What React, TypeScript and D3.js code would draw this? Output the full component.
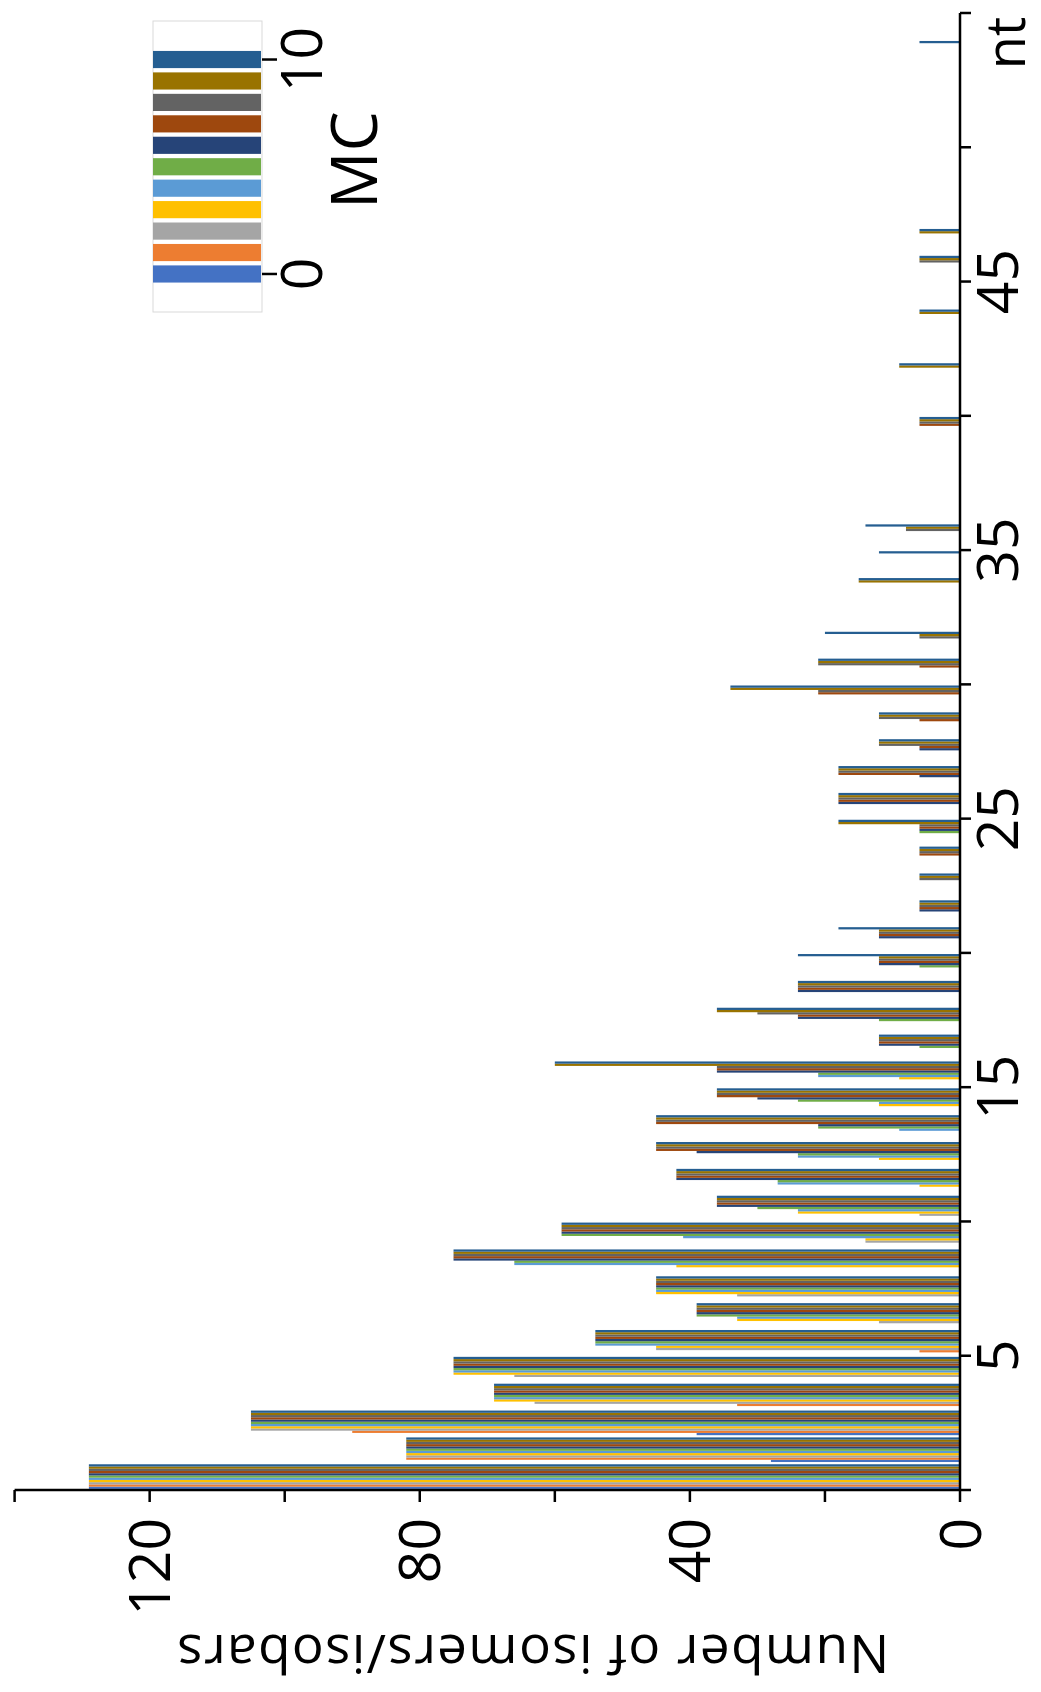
import React from 'react';
import * as d3 from 'd3';

// chain length categories (nt)
const ntValues = [
  1, 2, 3, 4, 5, 6, 7, 8, 9, 10, 11, 12, 13, 14, 15, 16, 17, 18, 19, 20,
  21, 22, 23, 24, 25, 26, 27, 28, 29, 30, 31, 32, 33, 34, 35, 36, 37, 38, 39, 40,
  41, 42, 43, 44, 45, 46, 47, 48, 49, 50, 51, 52, 53, 54,
];

// number of isomers/isobars per nt, one array per MC value
const mc0 = [129, 28, 39, 0, 0, 0, 0, 0, 0, 0, 0, 0, 0, 0, 0, 0, 0, 0, 0, 0, 0, 0, 0, 0, 0, 0, 0, 0, 0, 0, 0, 0, 0, 0, 0, 0, 0, 0, 0, 0, 0, 0, 0, 0, 0, 0, 0, 0, 0, 0, 0, 0, 0, 0];
const mc1 = [129, 82, 90, 33, 0, 6, 0, 0, 0, 0, 0, 0, 0, 0, 0, 0, 0, 0, 0, 0, 0, 0, 0, 0, 0, 0, 0, 0, 0, 0, 0, 0, 0, 0, 0, 0, 0, 0, 0, 0, 0, 0, 0, 0, 0, 0, 0, 0, 0, 0, 0, 0, 0, 0];
const mc2 = [129, 82, 105, 63, 66, 45, 12, 33, 0, 14, 6, 0, 0, 0, 0, 0, 0, 0, 0, 0, 0, 0, 0, 0, 0, 0, 0, 0, 0, 0, 0, 0, 0, 0, 0, 0, 0, 0, 0, 0, 0, 0, 0, 0, 0, 0, 0, 0, 0, 0, 0, 0, 0, 0];
const mc3 = [129, 82, 105, 69, 75, 45, 33, 45, 42, 14, 24, 6, 12, 0, 12, 9, 0, 0, 0, 0, 0, 0, 0, 0, 0, 0, 0, 0, 0, 0, 0, 0, 0, 0, 0, 0, 0, 0, 0, 0, 0, 0, 0, 0, 0, 0, 0, 0, 0, 0, 0, 0, 0, 0];
const mc4 = [129, 82, 105, 69, 75, 54, 33, 45, 66, 41, 24, 27, 24, 9, 12, 21, 0, 0, 0, 0, 0, 0, 0, 0, 0, 0, 0, 0, 0, 0, 0, 0, 0, 0, 0, 0, 0, 0, 0, 0, 0, 0, 0, 0, 0, 0, 0, 0, 0, 0, 0, 0, 0, 0];
const mc5 = [129, 82, 105, 69, 75, 54, 39, 45, 66, 59, 30, 27, 24, 21, 24, 21, 6, 12, 0, 6, 0, 0, 0, 0, 6, 0, 0, 0, 0, 0, 0, 0, 0, 0, 0, 0, 0, 0, 0, 0, 0, 0, 0, 0, 0, 0, 0, 0, 0, 0, 0, 0, 0, 0];
const mc6 = [129, 82, 105, 69, 75, 54, 39, 45, 75, 59, 36, 42, 39, 21, 30, 36, 12, 24, 24, 12, 12, 6, 0, 0, 6, 18, 6, 6, 0, 0, 0, 0, 0, 0, 0, 0, 0, 0, 0, 0, 0, 0, 0, 0, 0, 0, 0, 0, 0, 0, 0, 0, 0, 0];
const mc7 = [129, 82, 105, 69, 75, 54, 39, 45, 75, 59, 36, 42, 45, 45, 36, 36, 12, 24, 24, 12, 12, 6, 0, 6, 6, 18, 18, 6, 6, 21, 6, 0, 0, 0, 0, 0, 0, 0, 0, 6, 0, 0, 0, 0, 0, 0, 0, 0, 0, 0, 0, 0, 0, 0];
const mc8 = [129, 82, 105, 69, 75, 54, 39, 45, 75, 59, 36, 42, 45, 45, 36, 36, 12, 30, 24, 12, 12, 6, 6, 6, 6, 18, 18, 12, 12, 21, 21, 6, 0, 0, 0, 8, 0, 0, 0, 6, 0, 0, 0, 0, 0, 6, 0, 0, 0, 0, 0, 0, 0, 0];
const mc9 = [129, 82, 105, 69, 75, 54, 39, 45, 75, 59, 36, 42, 45, 45, 36, 60, 12, 36, 24, 12, 12, 6, 6, 6, 18, 18, 18, 12, 12, 34, 21, 6, 0, 15, 0, 8, 0, 0, 0, 6, 0, 9, 0, 6, 0, 6, 6, 0, 0, 0, 0, 0, 0, 0];
const mc10 = [129, 82, 105, 69, 75, 54, 39, 45, 75, 59, 36, 42, 45, 45, 36, 60, 12, 36, 24, 24, 18, 6, 6, 6, 18, 18, 18, 12, 12, 34, 21, 20, 0, 15, 12, 14, 0, 0, 0, 6, 0, 9, 0, 6, 0, 6, 6, 0, 0, 0, 0, 0, 0, 6];

const series = [mc0, mc1, mc2, mc3, mc4, mc5, mc6, mc7, mc8, mc9, mc10];
const mcLabels = ['0', '1', '2', '3', '4', '5', '6', '7', '8', '9', '10'];
const colors = [
  '#4472C4', '#ED7D31', '#A5A5A5', '#FFC000', '#5B9BD5', '#70AD47',
  '#264478', '#9E480E', '#636363', '#997300', '#255E91',
];

const ntTicks = [0, 5, 10, 15, 20, 25, 30, 35, 40, 45, 50, 55];
const ntTickLabels = [5, 15, 25, 35, 45];
const valueTicks = [0, 20, 40, 60, 80, 100, 120, 140];
const valueTickLabels = [0, 40, 80, 120];

const FONT = '"Open Sans", "Noto Sans", sans-serif';

export default function App() {
  const width = 1041;
  const height = 1692;

  // everything is drawn in an upright frame, then turned 90deg counter-clockwise
  const x = d3.scaleLinear().domain([0, 55]).range([202, 1679]);
  const y = d3.scaleLinear().domain([0, 140]).range([960, 14.6]);
  const band = x(1) - x(0);
  const inner = d3.scaleBand().domain(mcLabels).range([0, band]).paddingInner(0).paddingOuter(0.5);

  // legend colour bar
  const legend = d3.scaleBand().domain(mcLabels).range([1407.3, 1643.2]).paddingInner(0.2).paddingOuter(0.1);

  return (
    <svg
      width={width}
      height={height}
      style={{ position: 'absolute', left: 0, top: 0, background: '#fff', display: 'block' }}
      fontFamily={FONT}
    >
      <g transform={`translate(0,${height}) rotate(-90)`}>
        {/* bars */}
        {series.map((vals, si) => (
          <g key={si} fill={colors[si]}>
            {vals.map((v, i) =>
              v > 0 ? (
                <rect
                  key={i}
                  x={x(ntValues[i] - 1) + inner(mcLabels[si])}
                  y={y(v)}
                  width={inner.bandwidth()}
                  height={y(0) - y(v)}
                />
              ) : null
            )}
          </g>
        ))}

        {/* nt axis */}
        <line x1={x(0)} x2={x(55)} y1={y(0)} y2={y(0)} stroke="#000" strokeWidth={2.5} />
        {ntTicks.map(t => (
          <line key={t} x1={x(t)} x2={x(t)} y1={y(0)} y2={y(0) + 11} stroke="#000" strokeWidth={2.5} />
        ))}
        {ntTickLabels.map(t => (
          <text key={t} x={x(t)} y={1018} textAnchor="middle" fontSize={57}>{t}</text>
        ))}
        <text x={1649} y={1025} textAnchor="middle" fontSize={54}>nt</text>

        {/* value axis */}
        <line x1={x(0)} x2={x(0)} y1={y(0)} y2={y(140)} stroke="#000" strokeWidth={2.5} />
        {valueTicks.map(t => (
          <line key={t} x1={x(0)} x2={x(0) - 12} y1={y(t)} y2={y(t)} stroke="#000" strokeWidth={2.5} />
        ))}
        {valueTickLabels.map(t => (
          <text key={t} x={174} y={y(t)} dy="0.36em" textAnchor="end" fontSize={57}>{t}</text>
        ))}
        <text
          transform={`translate(57,${(y(0) + y(140)) / 2 + 46}) rotate(-90)`}
          textAnchor="middle"
          fontSize={53}
          textLength={712}
          lengthAdjust="spacing"
        >
          Number of isomers/isobars
        </text>

        {/* MC legend */}
        <rect x={1380} y={153} width={291} height={109} fill="#fff" stroke="#d9d9d9" strokeWidth={1} />
        {mcLabels.map((m, i) => (
          <rect key={m} x={legend(m)} y={153} width={legend.bandwidth()} height={108} fill={colors[i]} />
        ))}
        {['0', '10'].map(m => (
          <g key={m}>
            <line
              x1={legend(m) + legend.bandwidth() / 2}
              x2={legend(m) + legend.bandwidth() / 2}
              y1={262}
              y2={277}
              stroke="#000"
              strokeWidth={2.5}
            />
            <text x={legend(m) + legend.bandwidth() / 2} y={322} textAnchor="middle" fontSize={57}>{m}</text>
          </g>
        ))}
        <text x={1532} y={377} textAnchor="middle" fontSize={64}>MC</text>
      </g>
    </svg>
  );
}
